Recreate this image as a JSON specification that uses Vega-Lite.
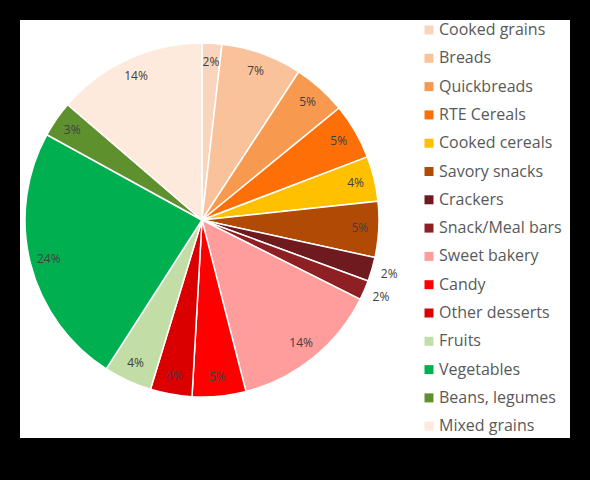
{
  "$schema": "https://vega.github.io/schema/vega-lite/v6.json",
  "description": "Share of food group contributions, pie chart",
  "width": 550,
  "height": 418,
  "autosize": {"type": "none"},
  "padding": {"left": 20, "top": 20, "right": 20, "bottom": 42},
  "background": "black",
  "view": {"fill": "white", "stroke": "white", "strokeWidth": 0},
  "config": {
    "font": "Open Sans"
  },
  "data": {
    "values": [
      {"group": "Cooked grains", "share": 0.018, "order": 1},
      {"group": "Breads", "share": 0.074, "order": 2},
      {"group": "Quickbreads", "share": 0.049, "order": 3},
      {"group": "RTE Cereals", "share": 0.051, "order": 4},
      {"group": "Cooked cereals", "share": 0.041, "order": 5},
      {"group": "Savory snacks", "share": 0.051, "order": 6},
      {"group": "Crackers", "share": 0.022, "order": 7},
      {"group": "Snack/Meal bars", "share": 0.018, "order": 8},
      {"group": "Sweet bakery", "share": 0.136, "order": 9},
      {"group": "Candy", "share": 0.049, "order": 10},
      {"group": "Other desserts", "share": 0.038, "order": 11},
      {"group": "Fruits", "share": 0.044, "order": 12},
      {"group": "Vegetables", "share": 0.239, "order": 13},
      {"group": "Beans, legumes", "share": 0.033, "order": 14},
      {"group": "Mixed grains", "share": 0.137, "order": 15}
    ]
  },
  "encoding": {
    "theta": {"field": "share", "type": "quantitative", "stack": true},
    "order": {"field": "order", "type": "quantitative"},
    "color": {
      "field": "group",
      "type": "nominal",
      "sort": {"field": "order"},
      "scale": {
        "domain": ["Cooked grains", "Breads", "Quickbreads", "RTE Cereals", "Cooked cereals", "Savory snacks", "Crackers", "Snack/Meal bars", "Sweet bakery", "Candy", "Other desserts", "Fruits", "Vegetables", "Beans, legumes", "Mixed grains"],
        "range": ["#FAD5BE", "#FAC29A", "#F79A50", "#FF6F08", "#FFC000", "#B04A05", "#6E1A1E", "#8E2024", "#FF9C9C", "#FF0000", "#DA0000", "#C2DEA6", "#00B050", "#5E902E", "#FDEADC"]
      },
      "legend": {
        "orient": "none",
        "legendX": 401,
        "legendY": 2,
        "title": null,
        "symbolType": "square",
        "symbolSize": 81,
        "symbolStrokeWidth": 0,
        "labelFontSize": 16,
        "labelColor": "#595959",
        "labelOffset": 2,
        "labelLimit": 200,
        "rowPadding": 12.3
      }
    }
  },
  "layer": [
    {
      "mark": {"type": "arc", "outerRadius": 177, "x": 182, "y": 200, "stroke": "white", "strokeWidth": 1.5}
    },
    {
      "mark": {"type": "text", "radius": 158, "x": 182, "y": 200, "fontSize": 12},
      "encoding": {
        "text": {"field": "share", "type": "quantitative", "format": ".0%"},
        "color": {"value": "#404040"},
        "opacity": {
          "condition": {"test": "datum.group == 'Crackers' || datum.group == 'Snack/Meal bars'", "value": 0},
          "value": 1
        }
      }
    },
    {
      "mark": {"type": "text", "radius": 195, "x": 182, "y": 200, "fontSize": 12},
      "encoding": {
        "text": {"field": "share", "type": "quantitative", "format": ".0%"},
        "color": {"value": "#404040"},
        "opacity": {
          "condition": {"test": "datum.group == 'Crackers' || datum.group == 'Snack/Meal bars'", "value": 1},
          "value": 0
        }
      }
    }
  ]
}
